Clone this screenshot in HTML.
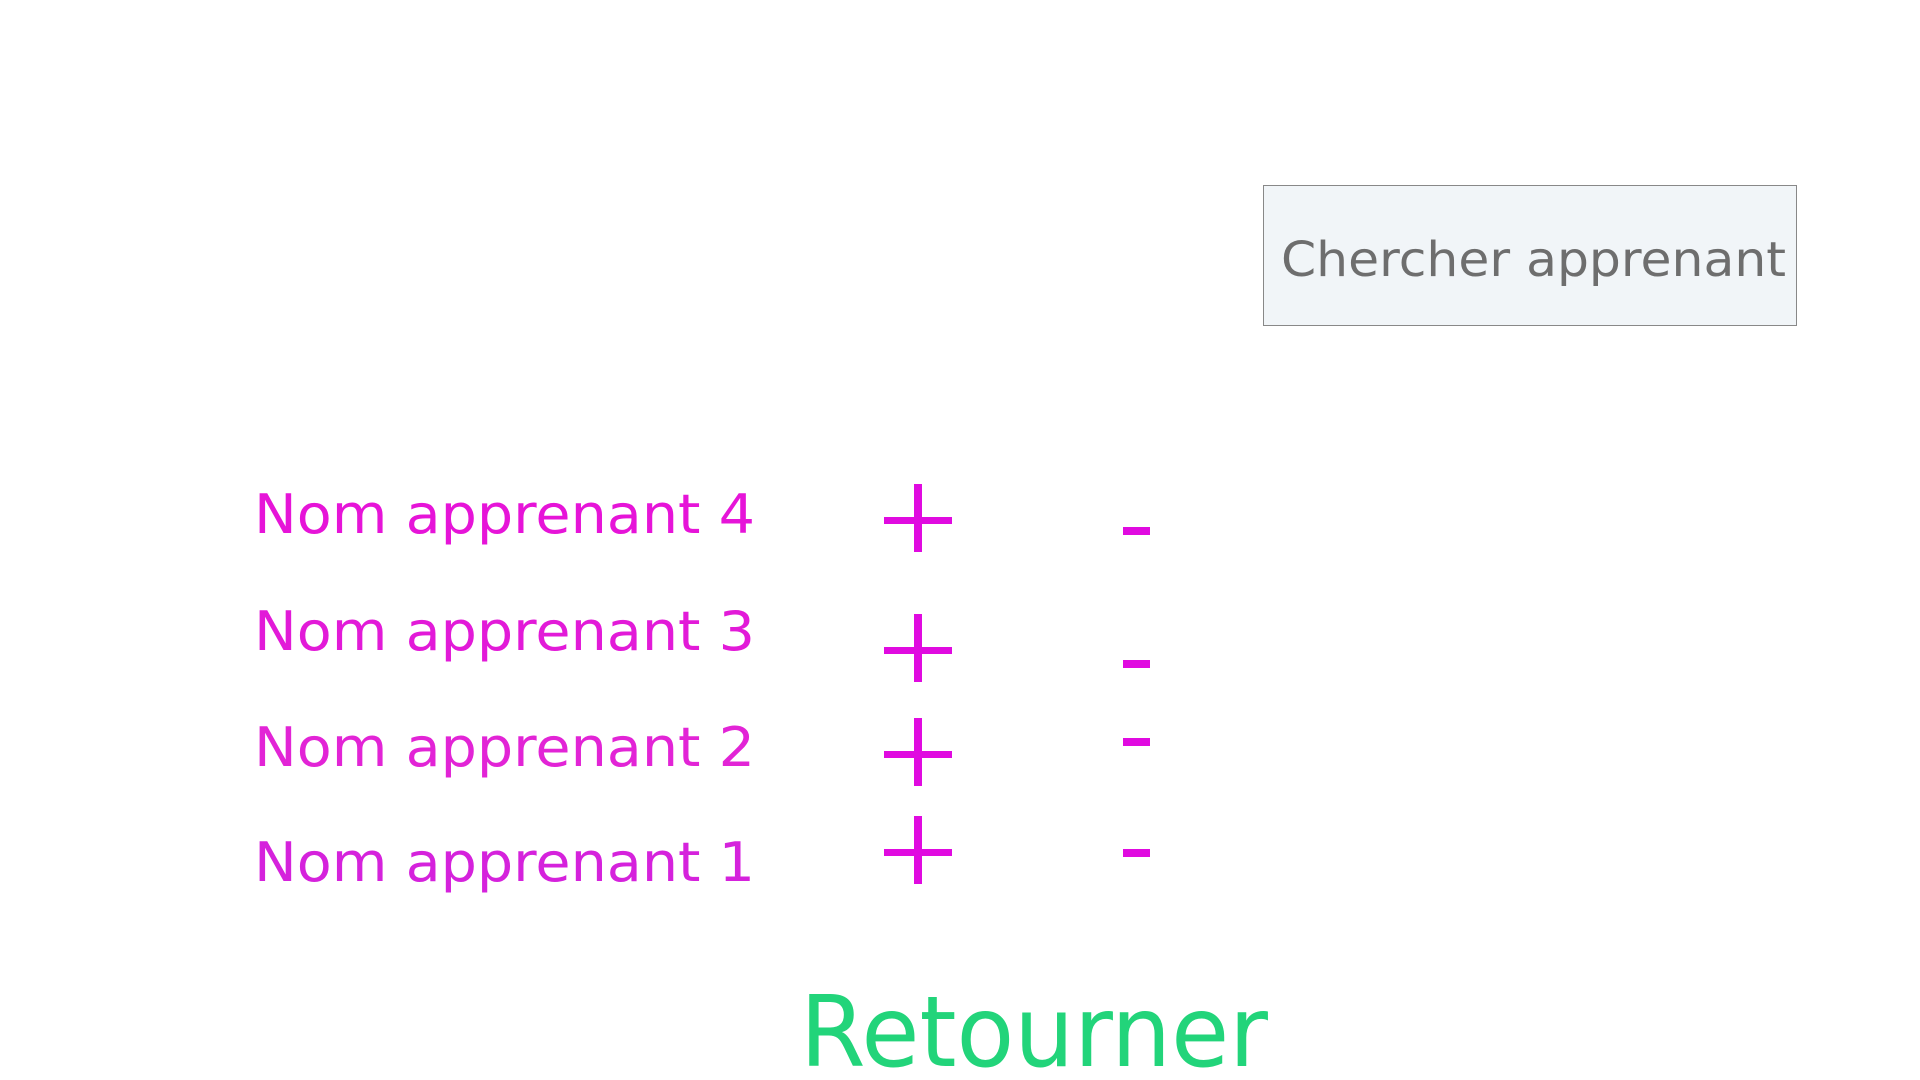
<!DOCTYPE html>
<html><head><meta charset="utf-8"><style>
html,body{margin:0;padding:0;background:#fff;width:1920px;height:1080px;overflow:hidden}
svg{display:block}
text{font-family:"DejaVu Sans","Liberation Sans",sans-serif}
</style></head><body>
<svg width="1920" height="1080" viewBox="0 0 1920 1080" xmlns="http://www.w3.org/2000/svg">
<rect x="1263.5" y="185.5" width="533" height="140" fill="#f1f5f8" stroke="#888" stroke-width="1"/>
<text x="1281" y="276" font-size="48" fill="#6e6e6e" textLength="505" lengthAdjust="spacingAndGlyphs">Chercher apprenant</text>
<g font-size="54" textLength="501">
<text x="254" y="533" fill="#e614d8" textLength="501" lengthAdjust="spacingAndGlyphs">Nom apprenant 4</text>
<text x="254" y="650" fill="#e21ad8" textLength="501" lengthAdjust="spacingAndGlyphs">Nom apprenant 3</text>
<text x="254" y="766" fill="#e224d6" textLength="501" lengthAdjust="spacingAndGlyphs">Nom apprenant 2</text>
<text x="254" y="881" fill="#d522dc" textLength="501" lengthAdjust="spacingAndGlyphs">Nom apprenant 1</text>
</g>
<g fill="#e00ae0">
<rect x="884" y="517" width="68" height="7"/><rect x="914" y="484" width="8" height="68"/>
<rect x="884" y="647" width="68" height="7"/><rect x="914" y="614" width="8" height="68"/>
<rect x="884" y="751" width="68" height="7"/><rect x="914" y="718" width="8" height="68"/>
<rect x="884" y="849" width="68" height="7"/><rect x="914" y="816" width="8" height="68"/>
<rect x="1123" y="527" width="27" height="8"/>
<rect x="1123" y="660" width="27" height="8"/>
<rect x="1123" y="738" width="27" height="8"/>
<rect x="1123" y="849" width="27" height="8"/>
</g>
<text x="800" y="1066" font-size="98" fill="#22d47a" textLength="468" lengthAdjust="spacingAndGlyphs">Retourner</text>
</svg>
</body></html>
